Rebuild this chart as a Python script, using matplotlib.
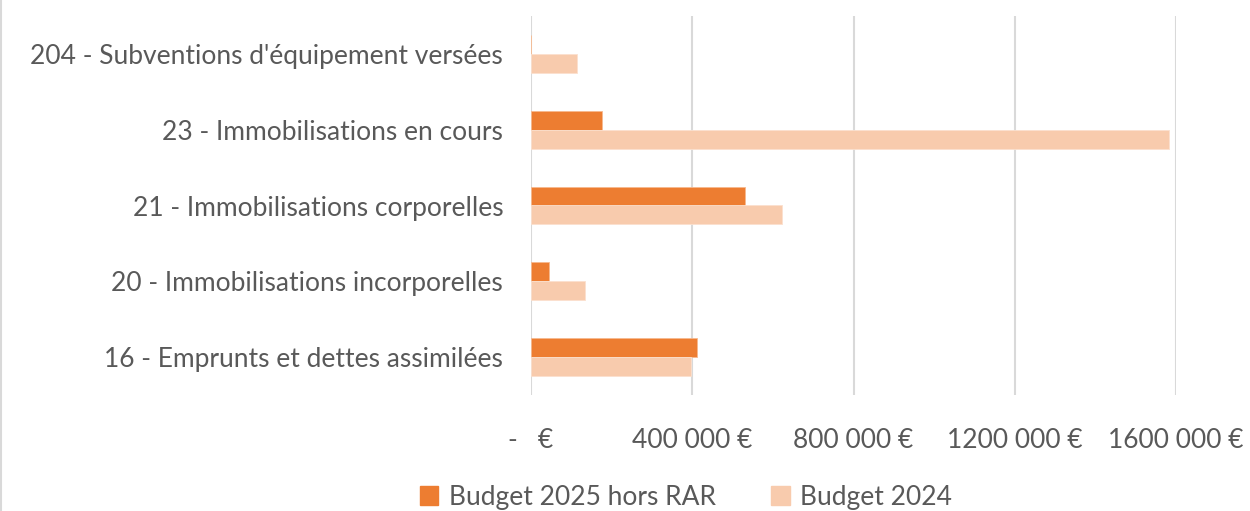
import matplotlib
matplotlib.use('Agg')
import matplotlib.pyplot as plt
from matplotlib.patches import Patch
import numpy as np

plt.rcParams['font.family'] = ['Lato', 'DejaVu Sans']

# données (de bas en haut)
categories = [
    "16 - Emprunts et dettes assimilées",
    "20 - Immobilisations incorporelles",
    "21 - Immobilisations corporelles",
    "23 - Immobilisations en cours",
    "204 - Subventions d'équipement versées",
]
budget_2025 = [413000, 45000, 532000, 177000, 0]
budget_2024 = [397000, 133000, 623000, 1582000, 115000]
series_names = ["Budget 2025 hors RAR", "Budget 2024"]
tick_values = [0, 400000, 800000, 1200000, 1600000]
tick_labels = ['-   €', '400 000 €', '800 000 €', '1200 000 €', '1600 000 €']

c2025 = '#ED7D31'
c2024 = '#F8CBAD'
txt = '#595959'
grid = '#D9D9D9'
fs = 19

fig = plt.figure(figsize=(12.5, 5.11), dpi=100)
ax = fig.add_axes([531 / 1250, 1 - 395 / 511, (1176 - 531) / 1250, 379 / 511])

y = np.arange(len(categories))
h = 0.25
ax.barh(y + h / 2, budget_2025, height=h, color=c2025, edgecolor='#F7B98E', linewidth=0.6, zorder=3)
ax.barh(y - h / 2, budget_2024, height=h, color=c2024, edgecolor='#FBE0CE', linewidth=0.6, zorder=3)

ax.set_xlim(0, 1600000)
ax.set_ylim(-0.5, len(categories) - 0.5)
ax.set_xticks(tick_values)
ax.set_xticklabels(tick_labels)
ax.set_yticks(y)
ax.set_yticklabels(categories)
ax.tick_params(axis='y', length=0, pad=20, labelsize=fs, labelcolor=txt)
ax.tick_params(axis='x', length=0, pad=24, labelsize=fs, labelcolor=txt)
ax.grid(axis='x', color=grid, linewidth=1.5, zorder=0)
for s in ['top', 'right', 'bottom', 'left']:
    ax.spines[s].set_visible(False)

handles = [Patch(color=c2025), Patch(color=c2024)]
fig.legend(handles, series_names, loc='center', bbox_to_anchor=(0.549, 0.027),
           ncol=2, frameon=False, fontsize=fs, labelcolor=txt,
           handlelength=0.7, handleheight=0.7, handletextpad=0.4, columnspacing=2.1)

# bord gauche du cadre
fig.add_artist(plt.Line2D([0.001, 0.001], [0, 1], color='#D9D9D9', linewidth=1.5))

plt.savefig('out.png', dpi=100)
